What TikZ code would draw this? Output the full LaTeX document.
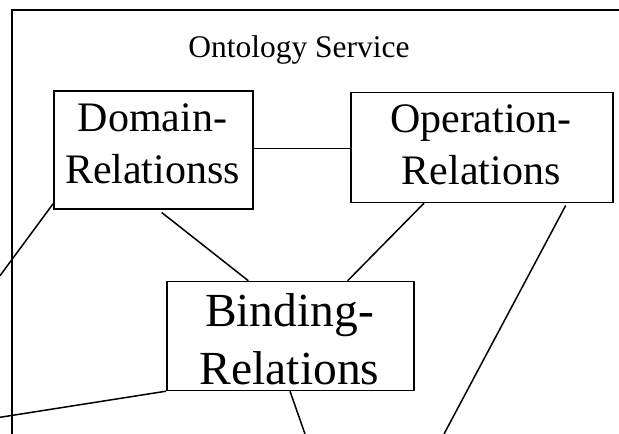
\documentclass[tikz,border=0pt]{standalone}
\usepackage{fontspec}
\setmainfont{Liberation Serif}
\usetikzlibrary{calc}
\begin{document}
\begin{tikzpicture}[x=1pt,y=-1pt,
  every path/.style={line width=1.5pt},
  relbox/.style={draw,line width=1.5pt,rectangle,inner sep=0pt,anchor=north west},
  bigtxt/.style={anchor=base,inner sep=0pt,font=\fontsize{42}{50}\selectfont},
  hugetxt/.style={anchor=base,inner sep=0pt,font=\fontsize{47.5}{57}\selectfont},
  titletxt/.style={anchor=base,inner sep=0pt,font=\fontsize{31.5}{38}\selectfont}]
\useasboundingbox (0,0) rectangle (619,434);
% container frame
\coordinate (fbl) at (12,434);
\coordinate (ftl) at (12,10);
\coordinate (ftr) at (619,10);
\draw (fbl) -- (ftl) -- (ftr);
\node[titletxt] (title) at (299,57) {Ontology Service};
% boxes
\node[relbox,minimum width=199pt,minimum height=118pt] (dom) at (53,90) {};
\node[relbox,minimum width=262pt,minimum height=110pt] (op) at (350,91.7) {};
\node[relbox,minimum width=247pt,minimum height=109pt] (bind) at (166,280.7) {};
% texts
\node[bigtxt] (dom1) at (152.5,131) {Domain-};
\node[bigtxt] (dom2) at (152.5,183) {Relationss};
\node[bigtxt] (op1) at (481,132.7) {Operation-};
\node[bigtxt] (op2) at (481,184) {Relations};
\node[hugetxt] (bind1) at (289.5,326.7) {Binding-};
\node[hugetxt] (bind2) at (289.5,384.7) {Relations};
% free ends
\coordinate (dl) at (0,275.7);
\coordinate (bl) at (0,417.3);
\coordinate (bb) at (305,434);
\coordinate (rb) at (444,434);
% connectors
\draw (dom.east |- 0,148.3) -- (op.west |- 0,148.3);
\draw ($(dom.south west)+(0.3,-6)$) -- (dl);
\draw ($(dom.south west)+(108.7,3)$) -- ($(bind.north west)+(82.3,0)$);
\draw ($(op.south west)+(74,0)$) -- ($(bind.north west)+(181.7,0)$);
\draw ($(op.south west)+(215.7,2.3)$) -- (rb);
\draw (bind.south west) -- (bl);
\draw ($(bind.south west)+(124,0)$) -- (bb);
\end{tikzpicture}
\end{document}
